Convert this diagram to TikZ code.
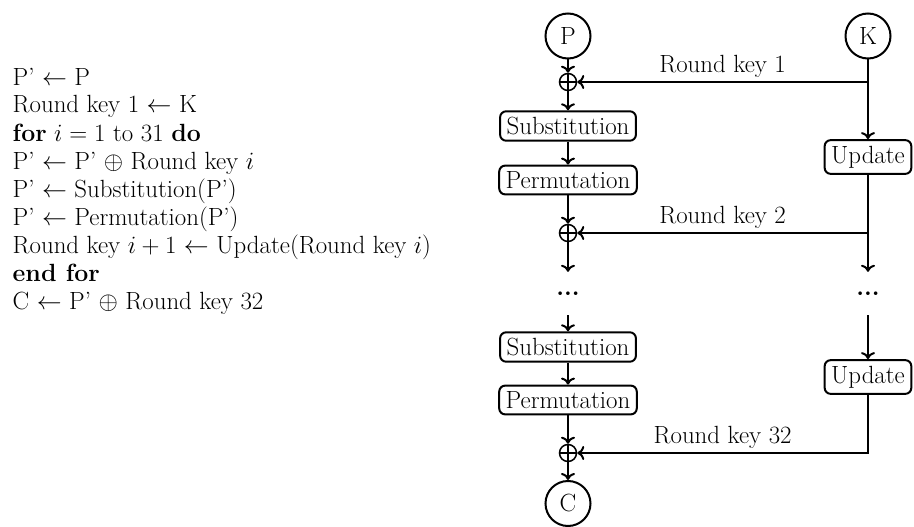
\documentclass[tikz,border=0pt]{standalone}
\usepackage{fontspec}
\usetikzlibrary{arrows.meta}

\tikzset{
  flow/.style={line width=2pt, -{Computer Modern Rightarrow[length=7pt, width=14pt]}},
  opbox/.style={draw, line width=2pt, rounded corners=6pt, inner xsep=6.5pt, inner ysep=5.8pt},
  endpt/.style={draw, circle, line width=2pt, minimum size=45pt, inner sep=0pt},
  xorpt/.style={draw, circle, line width=1.5pt, minimum size=17pt, inner sep=0pt,
    path picture={
      \draw[line width=1.3pt] (path picture bounding box.north) -- (path picture bounding box.south)
                              (path picture bounding box.west) -- (path picture bounding box.east);
    }},
  gap/.style={minimum height=43pt, inner sep=0pt, font=\fontsize{24.88}{30}\selectfont\bfseries},
  algline/.style={anchor=base west, inner sep=0pt},
}

\begin{document}
\begin{tikzpicture}[x=1pt, y=-1pt, font=\fontsize{24.88}{30}\selectfont]
\useasboundingbox (0,0) rectangle (914,527);

% pseudo-code
\node[algline] (alg1) at (12.5,85)  {P' $\leftarrow$ P};
\node[algline] (alg2) at (12.5,113) {Round key 1 $\leftarrow$ K};
\node[algline] (alg3) at (12.5,141) {\textbf{for} $i = 1$ to 31 \textbf{do}};
\node[algline] (alg4) at (12.5,169) {P' $\leftarrow$ P' $\oplus$ Round key $i$};
\node[algline] (alg5) at (12.5,197) {P' $\leftarrow$ Substitution(P')};
\node[algline] (alg6) at (12.5,225) {P' $\leftarrow$ Permutation(P')};
\node[algline] (alg7) at (12.5,253) {Round key $i+1$ $\leftarrow$ Update(Round key $i$)};
\node[algline] (alg8) at (12.5,281) {\textbf{end for}};
\node[algline] (alg9) at (12.5,309) {C $\leftarrow$ P' $\oplus$ Round key 32};

% data path
\node[endpt] (P) at (568,36) {P};
\node[xorpt] (x1) at (568,82) {};
\node[opbox] (S1) at (568,126) {Substitution};
\node[opbox] (M1) at (568,180) {Permutation};
\node[xorpt] (x2) at (568,233) {};
\node[gap]   (d1) at (568,293.5) {...};
\node[opbox] (S2) at (568,347) {Substitution};
\node[opbox] (M2) at (568,400) {Permutation};
\node[xorpt] (x3) at (568,453) {};
\node[endpt] (C) at (568,503.5) {C};

% key schedule
\node[endpt] (K) at (868,36) {K};
\node[opbox] (U1) at (868,157) {Update};
\node[gap]   (d2) at (868,293.5) {...};
\node[opbox] (U2) at (868,377) {Update};
\coordinate (k1) at (K |- x1);
\coordinate (k2) at (K |- x2);

\draw[flow] (P) -- (x1);
\draw[flow] (x1) -- (S1);
\draw[flow] (S1) -- (M1);
\draw[flow] (M1) -- (x2);
\draw[flow] (x2) -- (d1);
\draw[flow] (d1) -- (S2);
\draw[flow] (S2) -- (M2);
\draw[flow] (M2) -- (x3);
\draw[flow] (x3) -- (C);

\draw[flow] (K) -- (U1);
\draw[flow] (k1) -- node[above] {Round key 1} (x1);
\draw[flow] (U1) -- (d2);
\draw[flow] (k2) -- node[above] {Round key 2} (x2);
\draw[flow] (d2) -- (U2);
\draw[flow] (U2) |- node[pos=0.75, above] {Round key 32} (x3);
\end{tikzpicture}
\end{document}
